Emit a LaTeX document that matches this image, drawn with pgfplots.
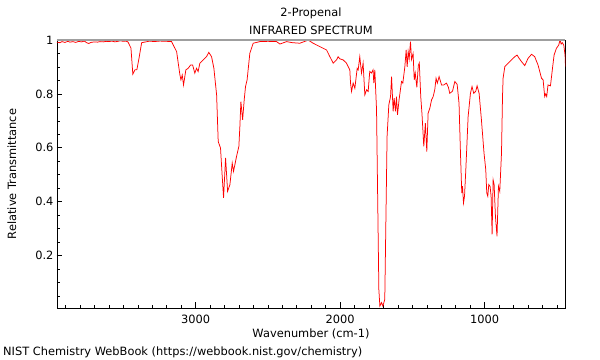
\documentclass[border=0pt]{standalone}
\usepackage{pgfplots}
\pgfplotsset{compat=1.18}
\usepackage{fontspec}
\setmainfont{DejaVu Sans}
\begin{document}
\begin{tikzpicture}[font=\fontsize{11.4bp}{13.5bp}\selectfont]
\useasboundingbox (0,0) rectangle (600bp,360bp);
\begin{axis}[
  at={(57bp,52bp)}, anchor=south west,
  scale only axis, width=508.5bp, height=268bp,
  x dir=reverse, xmin=440, xmax=3960, ymin=0.005, ymax=1.0,
  xtick={1000,2000,3000}, xticklabels={1000,2000,3000},
  minor xtick={500,600,...,3900},
  ytick={0.2,0.4,0.6,0.8,1}, yticklabels={0.2,0.4,0.6,0.8,1},
  minor ytick={0.05,0.1,...,0.95},
  xtick pos=left, ytick pos=left,
  tick align=inside,
  major tick length=5.5bp, minor tick length=3bp,
  axis line style={black, line width=0.8bp},
  every tick/.style={black, line width=0.6bp},
  xticklabel style={yshift=-3.5bp},
  clip=true,
]
\addplot[red, line width=0.75bp] coordinates {
(3960,0.992)(3940,0.990)(3925,0.994)(3905,0.991)(3885,0.995)(3870,0.992)
(3850,0.994)(3830,0.991)(3810,0.995)(3790,0.993)(3770,0.996)(3755,0.990)
(3740,0.987)(3725,0.991)(3700,0.993)(3680,0.992)(3663,0.994)(3640,0.993)
(3620,0.995)(3600,0.994)(3580,0.996)(3559,0.993)(3540,0.995)(3520,0.997)
(3500,0.995)(3485,0.996)(3469,0.993)
(3448,0.97)(3435,0.873)(3421,0.889)(3407,0.89)(3393,0.93)(3374,0.99)
(3317,0.996)(3290,0.994)(3248,0.996)(3200,0.995)(3167,0.994)(3132,0.957)(3109,0.87)(3102,0.852)
(3093,0.87)(3084,0.833)(3068,0.889)(3052,0.895)(3035,0.907)(3021,0.907)
(3006,0.877)(2994,0.895)(2983,0.883)(2971,0.914)(2948,0.926)(2925,0.938)
(2909,0.954)(2890,0.938)(2874,0.895)(2855,0.796)(2844,0.623)(2828,0.599)
(2817,0.5)(2807,0.414)(2793,0.562)(2779,0.438)(2763,0.463)(2747,0.543)
(2738,0.512)(2717,0.568)(2701,0.605)(2694,0.679)(2687,0.771)(2675,0.704)
(2664,0.778)(2655,0.827)(2644,0.852)(2625,0.951)(2602,0.988)(2556,0.994)
(2500,0.995)(2440,0.994)(2417,0.985)(2371,0.994)(2330,0.990)(2279,0.988)(2233,0.997)(2222,1.0)
(2187,0.988)(2094,0.963)(2071,0.938)(2048,0.914)(2025,0.926)(2014,0.938)
(2002,0.93)(1979,0.926)(1956,0.914)(1933,0.889)(1928,0.840)(1921,0.809)
(1910,0.84)(1898,0.821)(1882,0.895)(1875,0.889)(1864,0.938)(1852,0.877)
(1841,0.914)(1829,0.796)(1817,0.815)(1806,0.809)(1795,0.883)(1783,0.877)
(1772,0.889)(1767,0.84)(1760,0.889)(1748,0.741)(1732,0.074)(1725,0.012)
(1713,0.025)(1704,0.012)(1691,0.037)(1675,0.642)(1663,0.759)(1651,0.790)
(1644,0.864)(1633,0.735)(1626,0.784)(1617,0.735)(1610,0.790)(1603,0.722)
(1592,0.778)(1575,0.846)(1566,0.84)(1552,0.901)(1543,0.963)(1536,0.9)
(1529,0.957)(1522,0.93)(1513,0.994)(1506,0.928)(1495,0.95)(1487,0.852)
(1480,0.877)(1469,0.824)(1459,0.905)(1452,0.915)(1442,0.790)(1433,0.722)
(1421,0.605)(1410,0.691)(1400,0.586)(1391,0.728)(1379,0.747)(1367,0.778)
(1356,0.79)(1345,0.815)(1336,0.858)(1327,0.84)(1315,0.864)(1298,0.833)
(1283,0.833)(1264,0.84)(1251,0.825)(1241,0.802)(1222,0.81)(1206,0.846)
(1190,0.835)(1177,0.765)(1167,0.58)(1158,0.432)(1153,0.457)(1146,0.395)
(1139,0.42)(1130,0.519)(1114,0.716)(1098,0.802)(1087,0.827)(1075,0.802)
(1061,0.81)(1052,0.83)(1038,0.802)(1022,0.704)(1004,0.58)(992,0.519)
(985,0.432)(978,0.42)(971,0.463)(962,0.457)(955,0.42)(948,0.278)
(941,0.481)(934,0.463)(925,0.346)(914,0.271)(904,0.457)(895,0.438)
(883,0.58)(876,0.79)(872,0.858)(860,0.901)(837,0.914)(814,0.926)
(791,0.938)(775,0.944)(761,0.932)(745,0.920)(722,0.905)(699,0.932)
(675,0.947)(653,0.938)(630,0.907)(606,0.858)(595,0.852)(584,0.790)
(577,0.80)(570,0.79)(561,0.833)(544,0.83)(530,0.895)(519,0.944)
(503,0.969)(487,0.981)(478,1.0)(470,0.985)(462,0.99)(452,0.981)
(443,0.944)(440,0.901)
};
\draw[gray!75, line width=1.6bp] (rel axis cs:0,1) -- (rel axis cs:1,1);
\end{axis}
\node[anchor=base] at (311bp,343bp) {2-Propenal};
\node[anchor=base] at (311bp,325.5bp) {INFRARED SPECTRUM};
\node[anchor=base] at (311bp,23bp) {Wavenumber (cm-1)};
\node[anchor=base west, inner sep=0pt] at (3bp,4.5bp) {NIST Chemistry WebBook (https://webbook.nist.gov/chemistry)};
\node[rotate=90, anchor=base] at (16bp,186bp) {Relative Transmittance};
\end{tikzpicture}
\end{document}
